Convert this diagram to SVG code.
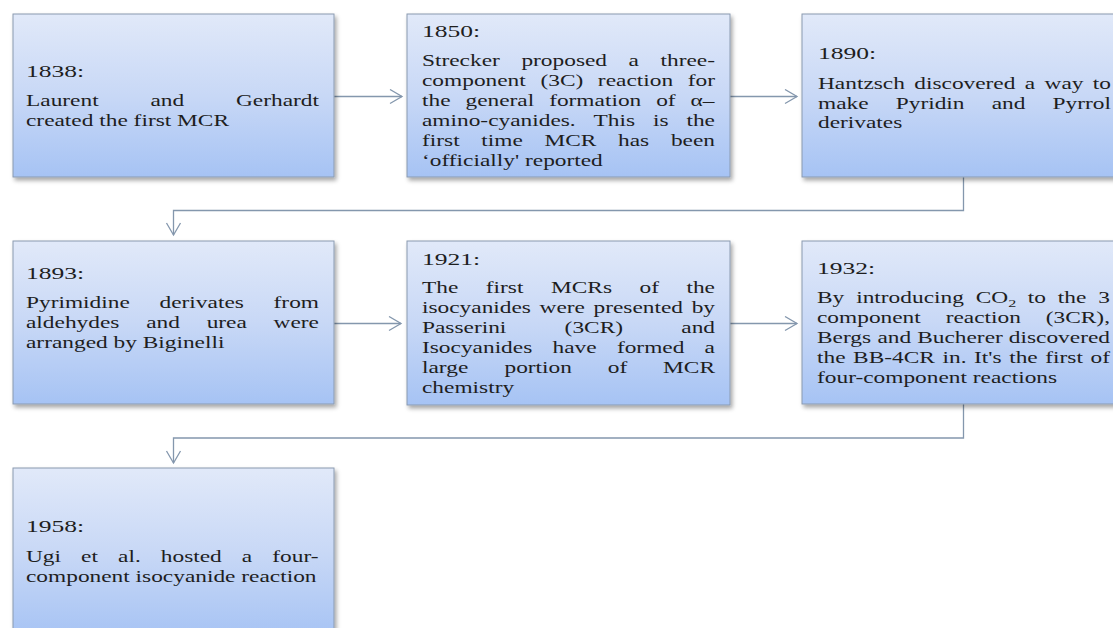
<svg xmlns="http://www.w3.org/2000/svg" width="1113" height="628" viewBox="0 0 1113 628">
<defs>
<linearGradient id="g" x1="0" y1="0" x2="0" y2="1">
<stop offset="0" stop-color="#e1e9f9"/>
<stop offset="0.5" stop-color="#c8d8f6"/>
<stop offset="1" stop-color="#a6c3f4"/>
</linearGradient>
<filter id="sh" x="-5%" y="-5%" width="115%" height="120%">
<feDropShadow dx="2" dy="3" stdDeviation="2" flood-color="#000" flood-opacity="0.35"/>
</filter>
<marker id="ar" markerUnits="userSpaceOnUse" markerWidth="16" markerHeight="18" refX="13" refY="8" orient="auto" viewBox="0 0 16 18">
<path d="M1,1 L13,8 L1,15" fill="none" stroke="#8497ad" stroke-width="1.3"/>
</marker>
</defs>
<style>
.box{fill:url(#g);stroke:#8a9ab0;stroke-width:1;filter:url(#sh)}
.t{font-family:"Liberation Serif","Times New Roman",serif;font-size:16px;fill:#1e1e1e}
.y{font-size:17.5px}
.c{fill:none;stroke:#8497ad;stroke-width:1.3;marker-end:url(#ar)}
</style>
<rect width="1113" height="628" fill="#ffffff"/>
<g id="connectors">
<path class="c" d="M334,96.5 H402"/>
<path class="c" d="M730,96.5 H797"/>
<path class="c" d="M963.5,177 V210.5 H173.5 V235"/>
<path class="c" d="M334,323.5 H401"/>
<path class="c" d="M730,323.5 H797"/>
<path class="c" d="M963.5,404 V438 H173.5 V463"/>
</g>
<g id="n1838">
<rect class="box" x="13" y="14" width="321" height="163"/>
<g class="t" transform="translate(26,0) scale(1.46,1)">
<text class="y" x="0" y="77">1838:</text>
<text y="106"><tspan x="0">Laurent</tspan><tspan x="85.24">and</tspan><tspan x="143.82">Gerhardt</tspan></text>
<text x="0" y="126">created the first MCR</text>
</g>
</g>
<g id="n1850">
<rect class="box" x="407" y="14" width="323" height="163"/>
<g class="t" transform="translate(422,0) scale(1.46,1)">
<text class="y" x="0" y="37">1850:</text>
<text y="66"><tspan x="0">Strecker</tspan><tspan x="68.08">proposed</tspan><tspan x="141.5">a</tspan><tspan x="163.38">three-</tspan></text>
<text y="86"><tspan x="0">component</tspan><tspan x="81.13">(3C)</tspan><tspan x="120.47">reaction</tspan><tspan x="182.03">for</tspan></text>
<text y="106"><tspan x="0">the</tspan><tspan x="29.78">general</tspan><tspan x="87.09">formation</tspan><tspan x="160.4">of</tspan><tspan x="183.97">α–</tspan></text>
<text y="126"><tspan x="0">amino-cyanides.</tspan><tspan x="117.5">This</tspan><tspan x="158.2">is</tspan><tspan x="181.14">the</tspan></text>
<text y="146"><tspan x="0">first</tspan><tspan x="40.6">time</tspan><tspan x="83.9">MCR</tspan><tspan x="134.3">has</tspan><tspan x="170.48">been</tspan></text>
<text x="0" y="166">‘officially' reported</text>
</g>
</g>
<g id="n1890">
<rect class="box" x="802" y="14" width="330" height="163"/>
<g class="t" transform="translate(818,0) scale(1.46,1)">
<text class="y" x="0" y="59">1890:</text>
<text y="89"><tspan x="0">Hantzsch</tspan><tspan x="65.94">discovered</tspan><tspan x="141.66">a</tspan><tspan x="155.18">way</tspan><tspan x="188.24">to</tspan></text>
<text y="109"><tspan x="0">make</tspan><tspan x="53.26">Pyridin</tspan><tspan x="118.98">and</tspan><tspan x="160.69">Pyrrol</tspan></text>
<text x="0" y="128">derivates</text>
</g>
</g>
<g id="n1893">
<rect class="box" x="13" y="241" width="321" height="163"/>
<g class="t" transform="translate(26,0) scale(1.46,1)">
<text class="y" x="0" y="279">1893:</text>
<text y="308"><tspan x="0">Pyrimidine</tspan><tspan x="91.47">derivates</tspan><tspan x="169.58">from</tspan></text>
<text y="328"><tspan x="0">aldehydes</tspan><tspan x="82.31">and</tspan><tspan x="123.74">urea</tspan><tspan x="169.6">were</tspan></text>
<text x="0" y="348">arranged by Biginelli</text>
</g>
</g>
<g id="n1921">
<rect class="box" x="407" y="241" width="323" height="164"/>
<g class="t" transform="translate(422,0) scale(1.46,1)">
<text class="y" x="0" y="265">1921:</text>
<text y="293"><tspan x="0">The</tspan><tspan x="43.72">first</tspan><tspan x="88.34">MCRs</tspan><tspan x="148.97">of</tspan><tspan x="181.14">the</tspan></text>
<text y="313"><tspan x="0">isocyanides</tspan><tspan x="80.53">were</tspan><tspan x="117.5">presented</tspan><tspan x="184.69">by</tspan></text>
<text y="333"><tspan x="0">Passerini</tspan><tspan x="97.68">(3CR)</tspan><tspan x="177.58">and</tspan></text>
<text y="353"><tspan x="0">Isocyanides</tspan><tspan x="89.41">have</tspan><tspan x="133.5">formed</tspan><tspan x="193.58">a</tspan></text>
<text y="373"><tspan x="0">large</tspan><tspan x="56.51">portion</tspan><tspan x="127.26">of</tspan><tspan x="165.12">MCR</tspan></text>
<text x="0" y="393">chemistry</text>
</g>
</g>
<g id="n1932">
<rect class="box" x="802" y="241" width="330" height="163"/>
<g class="t" transform="translate(817,0) scale(1.46,1)">
<text class="y" x="0" y="274">1932:</text>
<text y="303"><tspan x="0">By</tspan><tspan x="26.84">introducing</tspan><tspan x="108.77">CO</tspan><tspan dy="4" font-size="11">2</tspan><tspan x="144.36" y="303">to</tspan><tspan x="164.97">the</tspan><tspan x="192.69">3</tspan></text>
<text y="323"><tspan x="0">component</tspan><tspan x="88.13">reaction</tspan><tspan x="156.69">(3CR),</tspan></text>
<text y="343"><tspan x="0">Bergs</tspan><tspan x="41.43">and</tspan><tspan x="68.63">Bucherer</tspan><tspan x="131.38">discovered</tspan></text>
<text y="363"><tspan x="0">the</tspan><tspan x="24.74">BB-4CR</tspan><tspan x="85.95">in.</tspan><tspan x="107.58">It's</tspan><tspan x="131.65">the</tspan><tspan x="156.39">first</tspan><tspan x="187.36">of</tspan></text>
<text x="0" y="383">four-component reactions</text>
</g>
</g>
<g id="n1958">
<rect class="box" x="13" y="468" width="321" height="170"/>
<g class="t" transform="translate(26,0) scale(1.46,1)">
<text class="y" x="0" y="532">1958:</text>
<text y="562"><tspan x="0">Ugi</tspan><tspan x="37.74">et</tspan><tspan x="63.04">al.</tspan><tspan x="92.34">hosted</tspan><tspan x="147.86">a</tspan><tspan x="168.7">four-</tspan></text>
<text x="0" y="582">component isocyanide reaction</text>
</g>
</g>
</svg>
